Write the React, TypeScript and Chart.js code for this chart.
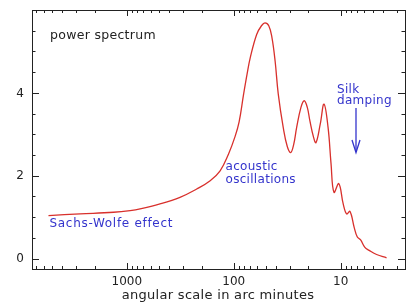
import { useEffect, useRef } from "react";
import { Chart, registerables } from "chart.js";

Chart.register(...registerables);

// angular scale in arc minutes (x, reversed log axis)
const angles = [5400, 2730, 1330, 930, 751, 489, 318, 222, 166, 134, 112, 97, 89, 81, 75, 70, 61, 55, 51, 47, 44, 41, 38.3, 34.4, 31.5, 29.3, 27.5, 25.8, 23.5, 21.9, 20.5, 19.4, 18.0, 17.0, 15.5, 14.3, 13.1, 12.3, 11.55, 10.4, 9.46, 8.79, 8.18, 7.46, 7.0, 6.5, 5.93, 5.41, 4.61, 3.72];
// power spectrum values
const power = [1.04, 1.08, 1.12, 1.16, 1.2, 1.32, 1.48, 1.68, 1.88, 2.12, 2.52, 2.95, 3.3, 3.95, 4.45, 4.85, 5.41, 5.62, 5.69, 5.62, 5.35, 4.77, 3.97, 3.16, 2.7, 2.56, 2.75, 3.16, 3.65, 3.81, 3.65, 3.33, 2.95, 2.8, 3.25, 3.73, 3.16, 2.3, 1.6, 1.81, 1.32, 1.08, 1.14, 0.75, 0.53, 0.45, 0.27, 0.2, 0.1, 0.02];

const xTickLabels = [1000, 100, 10];
const yTickLabels = [0, 2, 4];
const xTitle = "angular scale in arc minutes";

const FONT = '"DejaVu Sans", sans-serif';
const BLUE = "#3434cc";
const RED = "#d8302c";
const INK = "#222";

const framePlugin = {
  id: "frame",
  afterDraw(chart: any) {
    const { ctx, chartArea: a, scales } = chart;
    const xs = scales.x;
    const ys = scales.y;
    ctx.save();
    ctx.strokeStyle = INK;
    ctx.lineWidth = 1;
    ctx.strokeRect(a.left + 0.5, a.top + 0.5, a.right - a.left, a.bottom - a.top);
    const seg = (x1: number, y1: number, x2: number, y2: number) => {
      ctx.beginPath();
      ctx.moveTo(x1, y1);
      ctx.lineTo(x2, y2);
      ctx.stroke();
    };
    // x ticks (log)
    for (let e = 0; e <= 4; e++) {
      for (let m = 1; m <= 9; m++) {
        const v = m * Math.pow(10, e);
        if (v < xs.min || v > xs.max) continue;
        const px = Math.round(xs.getPixelForValue(v)) + 0.5;
        const len = m === 1 ? 6 : 3;
        seg(px, a.bottom, px, a.bottom - len);
        seg(px, a.top, px, a.top + len);
      }
    }
    // y ticks
    for (let v = 0; v < ys.max - 0.01; v += 0.5) {
      const py = Math.round(ys.getPixelForValue(v)) + 0.5;
      const major = yTickLabels.includes(v);
      const len = major ? 7 : 3.5;
      seg(a.left, py, a.left + len, py);
      seg(a.right, py, a.right - len, py);
    }
    // tick labels
    ctx.fillStyle = INK;
    ctx.font = "12px " + FONT;
    ctx.textAlign = "center";
    ctx.textBaseline = "alphabetic";
    for (const v of xTickLabels) {
      ctx.fillText(String(v), xs.getPixelForValue(v), 284.5);
    }
    ctx.textAlign = "right";
    ctx.textBaseline = "middle";
    for (const v of yTickLabels) {
      ctx.fillText(String(v), a.left - 8, ys.getPixelForValue(v) + 0.5);
    }
    // axis title
    ctx.textAlign = "center";
    ctx.textBaseline = "alphabetic";
    ctx.font = "13px " + FONT;
    (ctx as any).letterSpacing = "0.3px";
    ctx.fillText(xTitle, 218, 298.5);

    // annotations
    ctx.textAlign = "left";
    ctx.font = "12.5px " + FONT;
    (ctx as any).letterSpacing = "0.3px";
    ctx.fillStyle = INK;
    ctx.fillText("power spectrum", 50, 38.5);

    ctx.font = "12px " + FONT;
    ctx.fillStyle = BLUE;
    ctx.fillText("Silk", 337, 93.3);
    ctx.fillText("damping", 337, 104.3);
    ctx.fillText("acoustic", 225.5, 170.3);
    ctx.fillText("oscillations", 225.5, 182.7);
    (ctx as any).letterSpacing = "0.7px";
    ctx.fillText("Sachs-Wolfe effect", 49.5, 227);
    (ctx as any).letterSpacing = "0px";

    // arrow
    ctx.strokeStyle = BLUE;
    ctx.lineWidth = 1.3;
    seg(356, 108, 356, 152);
    ctx.beginPath();
    ctx.moveTo(352, 140);
    ctx.lineTo(356, 152.5);
    ctx.lineTo(360, 140);
    ctx.stroke();
    ctx.restore();
  },
};

export default function App() {
  const ref = useRef<HTMLCanvasElement>(null);
  useEffect(() => {
    document.body.style.margin = "0";
    const chart = new Chart(ref.current as HTMLCanvasElement, {
      type: "line",
      data: {
        datasets: [
          {
            data: angles.map((a, i) => ({ x: a, y: power[i] })),
            borderColor: RED,
            borderWidth: 1.3,
            pointRadius: 0,
            tension: 0.4,
            fill: false,
          },
        ],
      },
      options: {
        responsive: false,
        animation: false,
        events: [],
        layout: { padding: { left: 32, right: 12, top: 10, bottom: 35 } },
        plugins: { legend: { display: false }, tooltip: { enabled: false } },
        scales: {
          x: { type: "logarithmic", reverse: true, min: 2.5, max: 7700, display: false },
          y: { type: "linear", min: -0.25, max: 6, display: false },
        },
      },
      plugins: [framePlugin],
    } as any);
    return () => chart.destroy();
  }, []);
  return (
    <div style={{ position: "absolute", left: 0, top: 0, width: 417, height: 304, background: "#fff" }}>
      <canvas ref={ref} width={417} height={304} />
    </div>
  );
}
